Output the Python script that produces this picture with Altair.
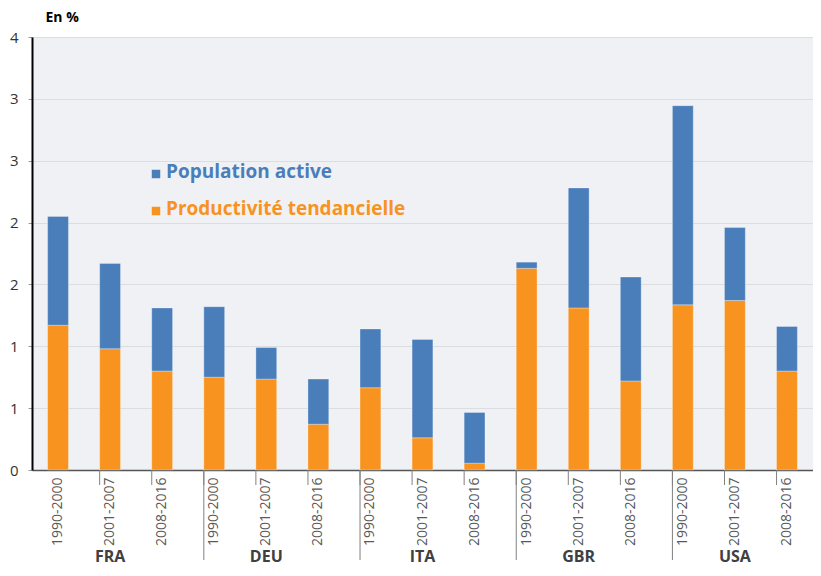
import altair as alt
import pandas as pd

countries = ["FRA", "DEU", "ITA", "GBR", "USA"]
periods = ["1990-2000", "2001-2007", "2008-2016"]
series = ["Population active", "Productivité tendancielle"]
colors = ["#4A7EBB", "#F7931E"]

# values in %, ordered FRA..USA x periods
productivite = [1.17, 0.98, 0.80,
                0.75, 0.735, 0.37,
                0.665, 0.26, 0.055,
                1.63, 1.31, 0.72,
                1.335, 1.37, 0.80]
population = [0.88, 0.69, 0.51,
              0.57, 0.255, 0.365,
              0.475, 0.795, 0.41,
              0.05, 0.97, 0.84,
              1.61, 0.59, 0.36]

y_ticks = [0, 0.5, 1, 1.5, 2, 2.5, 3, 3.5]

keys = [f"{c}|{p}" for c in countries for p in periods]

rows = []
for i, k in enumerate(keys):
    rows.append({"key": k, "series": series[1], "value": productivite[i], "order": 0})
    rows.append({"key": k, "series": series[0], "value": population[i], "order": 1})
bars_df = pd.DataFrame(rows)

short_df = pd.DataFrame({"key": keys[1:]})
long_df = pd.DataFrame({"key": [f"{c}|{periods[0]}" for c in countries[1:]]})
country_df = pd.DataFrame({"key": [f"{c}|{periods[1]}" for c in countries], "country": countries})

W, H = 781, 433

xscale = alt.Scale(domain=keys, paddingInner=0.6, paddingOuter=0.3)
xaxis = alt.Axis(
    title=None,
    labelExpr="split(datum.value, '|')[1]",
    labelAngle=-90,
    labelAlign="right",
    labelBaseline="middle",
    labelPadding=7,
    labelFontSize=14,
    labelColor="#595959",
    ticks=False,
    domainColor="#555555",
    domainWidth=1.5,
    grid=False,
)
yaxis = alt.Axis(
    values=y_ticks,
    labelExpr="round(datum.value)",
    title="En %",
    titleAngle=0,
    titleAlign="left",
    titleBaseline="alphabetic",
    titleX=13,
    titleY=-16,
    titleFontSize=14,
    titleFontWeight="bold",
    titleColor="#000000",
    labelFontSize=15,
    labelColor="#333333",
    labelPadding=10,
    tickSize=4,
    tickColor="#999999",
    domainColor="#000000",
    domainWidth=2,
    gridColor="#DCDDE1",
    gridWidth=1,
)

bars = alt.Chart(bars_df).mark_bar(stroke="#ffffff", strokeWidth=0.5, strokeOpacity=0.6).encode(
    x=alt.X("key:N", scale=xscale, axis=xaxis, sort=keys),
    y=alt.Y("value:Q", stack="zero", scale=alt.Scale(domain=[0, 3.5], nice=False), axis=yaxis),
    color=alt.Color("series:N", scale=alt.Scale(domain=series, range=colors), legend=None),
    order=alt.Order("order:Q"),
)

short_ticks = alt.Chart(short_df).mark_rule(color="#808080", strokeWidth=1).encode(
    x=alt.X("key:N", scale=xscale, axis=xaxis, bandPosition=0, sort=keys),
    y=alt.value(H),
    y2=alt.value(H + 15),
)

long_ticks = alt.Chart(long_df).mark_rule(color="#808080", strokeWidth=1).encode(
    x=alt.X("key:N", scale=xscale, axis=xaxis, bandPosition=0, sort=keys),
    y=alt.value(H),
    y2=alt.value(H + 90),
)

country_text = alt.Chart(country_df).mark_text(
    fontSize=16, fontWeight="bold", color="#404040", baseline="middle", align="center"
).encode(
    x=alt.X("key:N", scale=xscale, axis=xaxis, sort=keys),
    y=alt.value(H + 87),
    text="country:N",
)

legend_layers = []
for i, s in enumerate(series):
    ldf = pd.DataFrame({"series": [s]})
    ypos = 135 + i * 37
    sq = alt.Chart(ldf).mark_square(size=72, opacity=1, color=colors[i]).encode(
        x=alt.value(124), y=alt.value(ypos + 2)
    )
    tx = alt.Chart(ldf).mark_text(
        fontSize=19, fontWeight="bold", color=colors[i], align="left", baseline="middle"
    ).encode(x=alt.value(134), y=alt.value(ypos), text="series:N")
    legend_layers += [sq, tx]

chart = alt.layer(bars, short_ticks, long_ticks, country_text, *legend_layers).properties(
    width=W,
    height=H,
    autosize=alt.AutoSizeParams(type="none"),
    padding={"left": 24, "top": 29, "right": 0, "bottom": 98},
).configure(
    font="Open Sans",
).configure_view(
    fill="#F0F1F4",
    strokeWidth=0,
)

chart.save("out.html", embed_options={"renderer": "svg", "actions": False})
